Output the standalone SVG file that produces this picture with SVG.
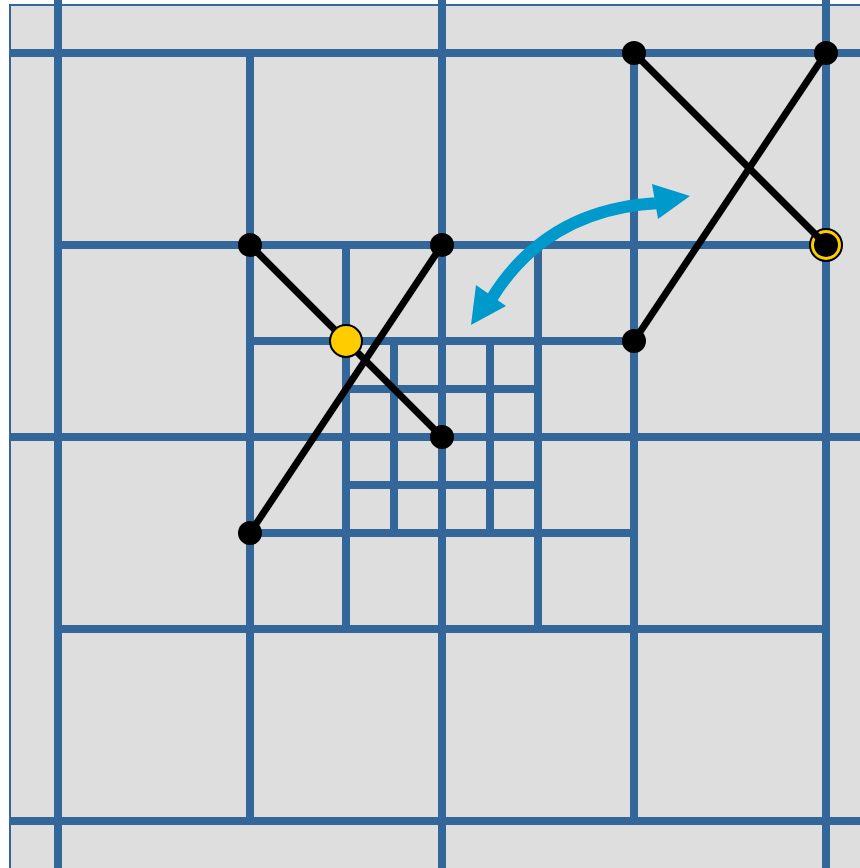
<svg xmlns="http://www.w3.org/2000/svg" width="860" height="868" viewBox="0 0 860 868">
  <style>
    .g { stroke: #336699; stroke-width: 8; fill: none; }
    .seg { stroke: #000; stroke-width: 7; fill: none; }
    .dot { fill: #000; }
    .hit { fill: #ffcc00; stroke: #000; stroke-width: 2; }
    .arr { fill: #0099cc; }
  </style>
  <rect x="10" y="5" width="862" height="875" fill="#dedede" stroke="#336699" stroke-width="2"/>
  <g id="grid">
    <line class="g" x1="58" y1="0" x2="58" y2="868"/>
    <line class="g" x1="442" y1="0" x2="442" y2="868"/>
    <line class="g" x1="826" y1="0" x2="826" y2="868"/>
    <line class="g" x1="10" y1="53" x2="860" y2="53"/>
    <line class="g" x1="10" y1="437" x2="860" y2="437"/>
    <line class="g" x1="10" y1="821" x2="860" y2="821"/>
    <line class="g" x1="250" y1="53" x2="250" y2="821"/>
    <line class="g" x1="634" y1="53" x2="634" y2="821"/>
    <line class="g" x1="58" y1="245" x2="826" y2="245"/>
    <line class="g" x1="58" y1="629" x2="826" y2="629"/>
    <line class="g" x1="346" y1="245" x2="346" y2="629"/>
    <line class="g" x1="538" y1="245" x2="538" y2="629"/>
    <line class="g" x1="250" y1="341" x2="634" y2="341"/>
    <line class="g" x1="250" y1="533" x2="634" y2="533"/>
    <line class="g" x1="394" y1="341" x2="394" y2="533"/>
    <line class="g" x1="490" y1="341" x2="490" y2="533"/>
    <line class="g" x1="346" y1="389" x2="538" y2="389"/>
    <line class="g" x1="346" y1="485" x2="538" y2="485"/>
  </g>
  <g id="connectors">
    <line class="seg" x1="250" y1="245" x2="442" y2="437"/>
    <line class="seg" x1="250" y1="533" x2="442" y2="245"/>
    <circle cx="826" cy="245" r="16" fill="#ffcc00" stroke="#000" stroke-width="2"/>
    <line class="seg" x1="634" y1="53" x2="826" y2="245"/>
    <line class="seg" x1="634" y1="341" x2="826" y2="53"/>
  </g>
  <g id="swap-arrow">
    <path d="M492,298 Q548,208 660,203" fill="none" stroke="#0099cc" stroke-width="12"/>
    <polygon class="arr" points="690,196 652,184 658,219"/>
    <polygon class="arr" points="471,325 476,285 506,306"/>
  </g>
  <g id="node-a"><circle class="dot" cx="250" cy="245" r="12"/></g>
  <g id="node-b"><circle class="dot" cx="442" cy="245" r="12"/></g>
  <g id="node-c"><circle class="dot" cx="442" cy="437" r="12"/></g>
  <g id="node-d"><circle class="dot" cx="250" cy="533" r="12"/></g>
  <g id="intersection-left"><circle class="hit" cx="346" cy="341" r="16"/></g>
  <g id="node-e"><circle class="dot" cx="634" cy="53" r="12"/></g>
  <g id="node-f"><circle class="dot" cx="826" cy="53" r="12"/></g>
  <g id="node-g"><circle class="dot" cx="634" cy="341" r="12"/></g>
  <g id="node-h"><circle class="dot" cx="826" cy="245" r="12"/></g>
</svg>
